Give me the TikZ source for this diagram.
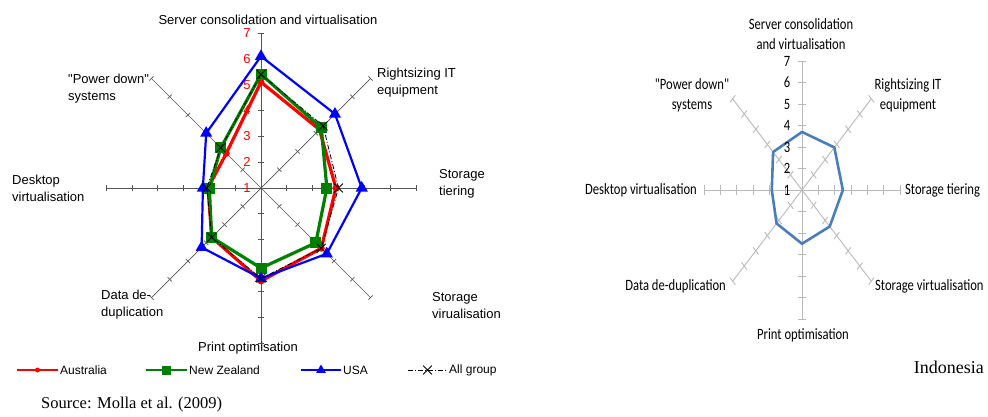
\documentclass[tikz,border=0pt]{standalone}
\usepackage{fontspec}
\setmainfont{Liberation Serif}
\newfontfamily\arialfont{Liberation Sans}
\newfontfamily\calfont{Carlito}
\usetikzlibrary{calc, shapes.geometric, shapes.misc}
\definecolor{ausred}{RGB}{255,0,0}
\definecolor{nzgreen}{RGB}{0,128,0}
\definecolor{usablue}{RGB}{0,0,255}
\definecolor{indoblue}{RGB}{74,126,187}
\definecolor{axisgray}{RGB}{85,85,85}
\definecolor{lightaxis}{RGB}{185,185,185}

\begin{document}
\begin{tikzpicture}[x=1pt, y=1pt,
    axisL/.style={draw=axisgray, line width=0.7pt},
    axisR/.style={draw=lightaxis, line width=0.9pt},
    lbl/.style={font=\arialfont\fontsize{13}{17}\selectfont, inner sep=0pt, align=left},
    leglbl/.style={font=\arialfont\fontsize{12}{14}\selectfont, inner sep=0pt, anchor=west},
    scalelbl/.style={font=\arialfont\fontsize{13}{15}\selectfont, text=ausred, inner sep=0pt},
    rlbl/.style={font=\calfont\fontsize{12.6}{16}\selectfont, inner sep=0pt, align=center, yscale=1.25, transform shape},
    ausline/.style={draw=ausred, line width=3.2pt, line join=round},
    nzline/.style={draw=nzgreen, line width=3.2pt, line join=round},
    usaline/.style={draw=usablue, line width=2.2pt, line join=round},
    allline/.style={draw=black, line width=0.8pt, dash pattern=on 5pt off 2pt on 1pt off 2pt},
    indoline/.style={draw=indoblue, line width=2.6pt, line join=round},
    ausmark/.style={circle, fill=ausred, inner sep=0pt, minimum size=7pt},
    nzmark/.style={rectangle, fill=nzgreen, inner sep=0pt, minimum size=11pt},
    usamark/.style={regular polygon, regular polygon sides=3, fill=usablue, inner sep=0pt, minimum size=14pt},
    allmark/.style={cross out, draw=black, line width=0.8pt, inner sep=0pt, minimum size=8pt}
]
\useasboundingbox (0,0) rectangle (988,-416);

% left chart: Australia, New Zealand, USA
\begin{scope}[shift={(261,-188)}]
  \foreach \a in {90,45,...,-225} {
    \draw[axisL] (0,0) -- (\a:155);
    \foreach \k in {1,...,6}
      \draw[axisL] ($(\a:{\k*25.83})+(\a+90:3)$) -- ($(\a:{\k*25.83})+(\a-90:3)$);
  }
  \foreach \k in {1,...,7}
    \node[scalelbl] (lnum\k) at (-14,{(\k-1)*25.83}) {\k};

  \foreach \v [count=\i] in {5.1,4.2,3.9,4.3,4.6,3.7,3.05,2.9}
    \coordinate (aus\i) at ({90-45*(\i-1)}:{(\v-1)*25.83});
  \foreach \v [count=\i] in {5.4,4.3,3.55,4.0,4.1,3.7,3.0,3.2}
    \coordinate (nz\i) at ({90-45*(\i-1)}:{(\v-1)*25.83});
  \foreach \v [count=\i] in {6.1,5.05,4.9,4.6,4.5,4.25,3.25,4.0}
    \coordinate (usa\i) at ({90-45*(\i-1)}:{(\v-1)*25.83});
  \foreach \v [count=\i] in {5.4,4.4,4.0,4.3,4.5,3.7,3.1,3.2}
    \coordinate (all\i) at ({90-45*(\i-1)}:{(\v-1)*25.83});

  \draw[ausline] (aus1) \foreach \i in {2,...,8} {-- (aus\i)} -- cycle;
  \foreach \i in {1,...,8} \node[ausmark] (ausm\i) at (aus\i) {};
  \draw[nzline] (nz1) \foreach \i in {2,...,8} {-- (nz\i)} -- cycle;
  \foreach \i in {1,...,8} \node[nzmark] (nzm\i) at (nz\i) {};
  \draw[usaline] (usa1) \foreach \i in {2,...,8} {-- (usa\i)} -- cycle;
  \foreach \i in {1,...,8} \node[usamark] (usam\i) at (usa\i) {};
  \draw[allline] (all1) \foreach \i in {2,...,8} {-- (all\i)} -- cycle;
  \foreach \i in {1,...,8} \node[allmark] (allm\i) at (all\i) {};
\end{scope}

\node[lbl] (srvL) at (268,-20) {Server consolidation and virtualisation};
\node[lbl, anchor=west] (rightL) at (377,-83) {Rightsizing IT\\equipment};
\node[lbl, anchor=west] (tierL) at (439,-184) {Storage\\tiering};
\node[lbl, anchor=west] (virtL) at (432,-306) {Storage\\virualisation};
\node[lbl] (printL) at (248,-348) {Print optimisation};
\node[lbl, anchor=west] (dedupL) at (101,-305) {Data de-\\duplication};
\node[lbl, anchor=west] (deskL) at (12,-188) {Desktop\\virtualisation};
\node[lbl, anchor=west] (powerL) at (68,-89) {"Power down"\\systems};

% legend
\draw[ausline, line width=2.4pt] (17,-370) -- (58,-370);
\node[ausmark, minimum size=5pt] (legausm) at (37.5,-370) {};
\node[leglbl] (legaus) at (60,-370) {Australia};
\draw[nzline, line width=2.4pt] (146,-370) -- (187,-370);
\node[nzmark, minimum size=9pt] (legnzm) at (166.5,-370) {};
\node[leglbl] (legnz) at (189,-370) {New Zealand};
\draw[usaline, line width=2.4pt] (301,-370) -- (341,-370);
\node[usamark, minimum size=11pt] (legusam) at (321,-370) {};
\node[leglbl] (legusa) at (343,-370) {USA};
\draw[allline] (408,-370) -- (447,-370);
\node[allmark] (legallm) at (427.5,-370) {};
\node[leglbl] (legall) at (449,-370) {All group};

\node[font=\fontsize{16.5}{19}\selectfont, anchor=west, inner sep=0pt] (source) at (41,-405) {Source: Molla et al. (2009)};

% right chart: Indonesia
\begin{scope}[shift={(802,-190)}, xscale=0.76]
  \foreach \a in {90,45,...,-225} {
    \draw[axisR] (0,0) -- (\a:129);
    \foreach \k in {1,...,6}
      \draw[axisR] ($(\a:{\k*21.5})+(\a+90:5)$) -- ($(\a:{\k*21.5})+(\a-90:5)$);
  }
  \foreach \v [count=\i] in {3.7,3.8,3.5,3.4,3.5,3.2,2.85,3.5}
    \coordinate (indo\i) at ({90-45*(\i-1)}:{(\v-1)*21.5});
  \draw[indoline] (indo1) \foreach \i in {2,...,8} {-- (indo\i)} -- cycle;
\end{scope}
\foreach \k in {1,...,7}
  \node[rlbl] (rnum\k) at (787,{-190+(\k-1)*21.5}) {\k};

\node[rlbl] (srvR) at (801,-34) {Server consolidation\\and virtualisation};
\node[rlbl] (powerR) at (692,-95) {"Power down"\\systems};
\node[rlbl] (rightR) at (908,-95) {Rightsizing IT\\equipment};
\node[rlbl, anchor=east] (deskR) at (697,-190) {Desktop virtualisation};
\node[rlbl, anchor=west] (tierR) at (905,-190) {Storage tiering};
\node[rlbl, anchor=east] (dedupR) at (726,-286) {Data de-duplication};
\node[rlbl, anchor=west] (virtR) at (875,-286) {Storage virtualisation};
\node[rlbl] (printR) at (803,-335) {Print optimisation};
\node[font=\fontsize{18}{20}\selectfont, anchor=east, inner sep=0pt] (indoL) at (984,-367) {Indonesia};
\end{tikzpicture}
\end{document}
